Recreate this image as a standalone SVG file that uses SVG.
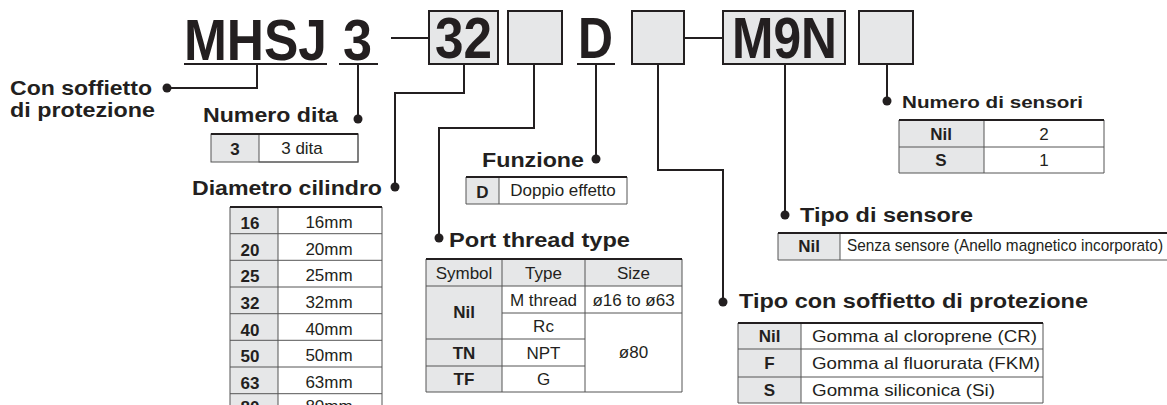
<svg xmlns="http://www.w3.org/2000/svg" width="1167" height="405" viewBox="0 0 1167 405">
<defs>
<style>
text{font-family:"Liberation Sans",Arial,sans-serif;fill:#231f20}
.big{font-size:57px;font-weight:bold}
.lbl{font-size:20px;font-weight:bold}
.lbs{font-size:17px;font-weight:bold}
.k{font-size:17px;font-weight:bold;text-anchor:middle}
.v{font-size:17px;text-anchor:middle}
.vl{font-size:17px}
.box{fill:#e6e7e8;stroke:#231f20;stroke-width:2}
.ln{fill:none;stroke:#231f20;stroke-width:2}
.g{fill:#e6e7e8}
.c{fill:#fff;stroke:#555;stroke-width:1}
.tl{stroke:#231f20;stroke-width:2.2}
.gl{stroke:#555;stroke-width:1;fill:none}
.dot{fill:#231f20}
</style>
</defs>

<g id="code">
  <text class="big" x="184" y="60" textLength="143" lengthAdjust="spacingAndGlyphs">MHSJ</text>
  <text class="big" x="343" y="60" textLength="29" lengthAdjust="spacingAndGlyphs">3</text>
  <rect class="box" x="429" y="11" width="69" height="53"/>
  <text class="big" x="435" y="58" textLength="57" lengthAdjust="spacingAndGlyphs">32</text>
  <rect class="box" x="508" y="11" width="54" height="53"/>
  <text class="big" x="578" y="58" textLength="35" lengthAdjust="spacingAndGlyphs">D</text>
  <rect class="box" x="632" y="11" width="52" height="53"/>
  <rect class="box" x="723" y="11" width="122" height="53"/>
  <text class="big" x="732" y="58" textLength="105" lengthAdjust="spacingAndGlyphs">M9N</text>
  <rect class="box" x="859" y="11" width="54" height="53"/>
</g>

<g id="connectors">
  <path class="ln" d="M391,38H429M684,38H723"/>
  <path class="ln" d="M184,64H327M339,64H378M577,64H615"/>
  <path class="ln" d="M257,64V88H167"/>
  <path class="ln" d="M358,64V119"/>
  <path class="ln" d="M464,64V93H395V187"/>
  <path class="ln" d="M534,64V128H439V238"/>
  <path class="ln" d="M596,64V159"/>
  <path class="ln" d="M658,64V170H723V302"/>
  <path class="ln" d="M785,64V215"/>
  <path class="ln" d="M887,64V101"/>
  <circle class="dot" cx="167" cy="88" r="4.5"/>
  <circle class="dot" cx="358" cy="119" r="4.5"/>
  <circle class="dot" cx="395" cy="187" r="4.5"/>
  <circle class="dot" cx="439" cy="238" r="4.5"/>
  <circle class="dot" cx="596" cy="159" r="4.5"/>
  <circle class="dot" cx="723" cy="302" r="4.5"/>
  <circle class="dot" cx="785" cy="215" r="4.5"/>
  <circle class="dot" cx="887" cy="101" r="4.5"/>
</g>

<g id="con-soffietto">
  <text class="lbl" x="10" y="95" textLength="142" lengthAdjust="spacingAndGlyphs">Con soffietto</text>
  <text class="lbl" x="10" y="117" textLength="145" lengthAdjust="spacingAndGlyphs">di protezione</text>
</g>

<g id="numero-dita">
  <text class="lbl" x="203" y="122" textLength="135" lengthAdjust="spacingAndGlyphs">Numero dita</text>
  <rect class="g" x="211" y="134" width="48" height="28"/>
  <rect class="c" x="259" y="134" width="99" height="28"/>
  <rect class="gl" x="211" y="134" width="147" height="28"/>
  <line class="tl" x1="211" y1="134" x2="358" y2="134"/>
  <text class="k" x="235" y="155">3</text>
  <text class="v" x="302" y="154">3 dita</text>
</g>

<g id="diametro">
  <text class="lbl" x="192" y="195" textLength="190" lengthAdjust="spacingAndGlyphs">Diametro cilindro</text>
  <rect class="g" x="230" y="207" width="48" height="213"/>
  <rect fill="#fff" x="278" y="207" width="104" height="213"/>
  <path class="gl" d="M230,207V420M278,207V420M382,207V420M230,233.7H382M230,260.3H382M230,287H382M230,313.7H382M230,340.3H382M230,367H382M230,393.7H382"/>
  <line class="tl" x1="230" y1="207" x2="382" y2="207"/>
  <text class="k" x="250" y="229">16</text><text class="v" x="329" y="228">16mm</text>
  <text class="k" x="250" y="255.7">20</text><text class="v" x="329" y="254.7">20mm</text>
  <text class="k" x="250" y="282.3">25</text><text class="v" x="329" y="281.3">25mm</text>
  <text class="k" x="250" y="309">32</text><text class="v" x="329" y="308">32mm</text>
  <text class="k" x="250" y="335.7">40</text><text class="v" x="329" y="334.7">40mm</text>
  <text class="k" x="250" y="362.3">50</text><text class="v" x="329" y="361.3">50mm</text>
  <text class="k" x="250" y="389">63</text><text class="v" x="329" y="388">63mm</text>
  <text class="k" x="250" y="413">80</text><text class="v" x="329" y="412">80mm</text>
</g>

<g id="funzione">
  <text class="lbl" x="482" y="167" textLength="102" lengthAdjust="spacingAndGlyphs">Funzione</text>
  <rect class="g" x="466" y="177" width="33" height="27"/>
  <rect fill="#fff" x="499" y="177" width="128" height="27"/>
  <path class="gl" d="M466,177V204H627V177M499,177V204"/>
  <line class="tl" x1="466" y1="177" x2="627" y2="177"/>
  <text class="k" x="482.5" y="198">D</text>
  <text class="v" x="563" y="196">Doppio effetto</text>
</g>

<g id="port-thread">
  <text class="lbl" x="449" y="247" textLength="181" lengthAdjust="spacingAndGlyphs">Port thread type</text>
  <rect class="g" x="426" y="259" width="256" height="27"/>
  <rect class="g" x="426" y="286" width="76" height="106"/>
  <rect fill="#fff" x="502" y="286" width="180" height="106"/>
  <path class="gl" d="M426,259V392H682V259M502,259V392M585,259V392M426,286H682M502,313H682M426,339H585M426,366H585"/>
  <line class="tl" x1="426" y1="259" x2="682" y2="259"/>
  <text class="v" x="464" y="279">Symbol</text>
  <text class="v" x="543.5" y="279">Type</text>
  <text class="v" x="633.5" y="279">Size</text>
  <text class="k" x="464" y="318">Nil</text>
  <text class="v" x="543.5" y="306">M thread</text>
  <text class="v" x="633.5" y="306">ø16 to ø63</text>
  <text class="v" x="543.5" y="332">Rc</text>
  <text class="k" x="464" y="359">TN</text>
  <text class="v" x="543.5" y="359">NPT</text>
  <text class="v" x="633.5" y="358">ø80</text>
  <text class="k" x="464" y="385">TF</text>
  <text class="v" x="543.5" y="385">G</text>
</g>

<g id="numero-sensori">
  <text class="lbs" x="902" y="108" textLength="181" lengthAdjust="spacingAndGlyphs">Numero di sensori</text>
  <rect class="g" x="899" y="120" width="85" height="53"/>
  <rect fill="#fff" x="984" y="120" width="120" height="53"/>
  <path class="gl" d="M899,120V173H1104V120M984,120V173M899,147H1104"/>
  <line class="tl" x1="899" y1="120" x2="1104" y2="120"/>
  <text class="k" x="941" y="140">Nil</text>
  <text class="v" x="1044" y="140">2</text>
  <text class="k" x="941" y="166">S</text>
  <text class="v" x="1044" y="166">1</text>
</g>

<g id="tipo-sensore">
  <text class="lbl" x="800" y="222" textLength="173" lengthAdjust="spacingAndGlyphs">Tipo di sensore</text>
  <rect class="g" x="778" y="233" width="62" height="27"/>
  <rect fill="#fff" x="840" y="233" width="327" height="27"/>
  <path class="gl" d="M778,233V260H1167M840,233V260"/>
  <line class="tl" x1="778" y1="233" x2="1167" y2="233"/>
  <text class="k" x="809" y="252">Nil</text>
  <text class="vl" x="847" y="251" textLength="316" lengthAdjust="spacingAndGlyphs">Senza sensore  (Anello magnetico incorporato)</text>
</g>

<g id="tipo-soffietto">
  <text class="lbl" x="739" y="308" textLength="349" lengthAdjust="spacingAndGlyphs">Tipo con soffietto di protezione</text>
  <rect class="g" x="738" y="323" width="63" height="80"/>
  <rect fill="#fff" x="801" y="323" width="242" height="80"/>
  <path class="gl" d="M738,323V403H1043V323M801,323V403M738,349H1043M738,377H1043"/>
  <line class="tl" x1="738" y1="323" x2="1043" y2="323"/>
  <text class="k" x="769.5" y="342">Nil</text>
  <text class="vl" x="812" y="342" textLength="225" lengthAdjust="spacingAndGlyphs">Gomma al cloroprene (CR)</text>
  <text class="k" x="769.5" y="369">F</text>
  <text class="vl" x="812" y="369" textLength="228" lengthAdjust="spacingAndGlyphs">Gomma al fluorurata (FKM)</text>
  <text class="k" x="769.5" y="396">S</text>
  <text class="vl" x="812" y="396" textLength="183" lengthAdjust="spacingAndGlyphs">Gomma siliconica (Si)</text>
</g>
</svg>
